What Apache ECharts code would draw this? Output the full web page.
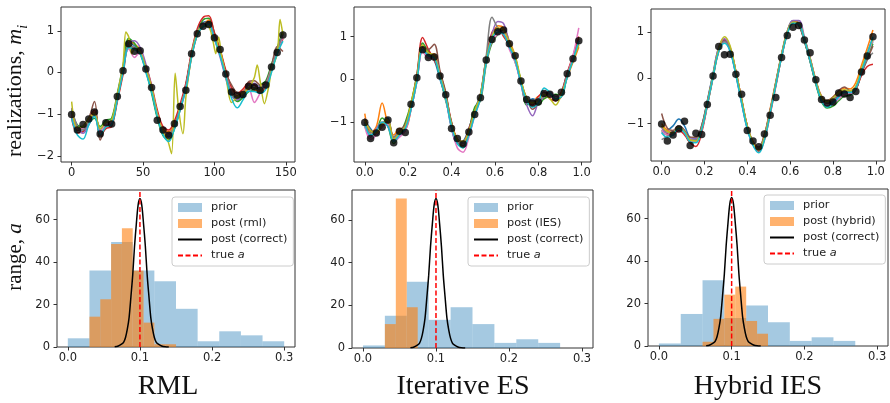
<!DOCTYPE html>
<html><head><meta charset="utf-8">
<script src="https://cdn.jsdelivr.net/npm/echarts@6/dist/echarts.min.js"></script>
<style>html,body{margin:0;padding:0;background:#fff}#c{width:890px;height:403px}</style>
</head><body><div id="c"></div>
<script>
// ---------- top row: realizations ----------
const obsX = [0,4,8,12,16,20,24,28,32,36,40,44,48,52,56,60,64,68,72,76,80,84,88,92,96,100,104,108,112,116,120,124,128,132,136,140,144,148];
const obsXUnit = [0,0.0267,0.0533,0.08,0.1067,0.1333,0.16,0.1867,0.2133,0.24,0.2667,0.2933,0.32,0.3467,0.3733,0.4,0.4267,0.4533,0.48,0.5067,0.5333,0.56,0.5867,0.6133,0.64,0.6667,0.6933,0.72,0.7467,0.7733,0.8,0.8267,0.8533,0.88,0.9067,0.9333,0.96,0.9867];
const obsY = [-1.01,-1.38,-1.25,-1.12,-0.95,-1.48,-1.21,-1.24,-0.58,0.04,0.69,0.51,0.52,0.08,-0.36,-1.15,-1.38,-1.51,-1.23,-0.82,-0.43,0.45,0.93,1.11,1.15,0.83,0.55,-0.04,-0.47,-0.55,-0.53,-0.33,-0.35,-0.43,-0.30,0.13,0.48,0.90];

const rml1 = [-0.95,-1.3,-1.42,-1.2,-1.05,-1.35,-1.2,-1.15,-0.55,0.1,0.72,0.64,0.48,0.06,-0.45,-1.05,-1.45,-1.55,-1.3,-0.85,-0.32,0.45,1.0,1.2,1.22,0.88,0.42,-0.1,-0.52,-0.66,-0.56,-0.4,-0.3,-0.36,-0.26,0.15,0.55,0.95];
const rml2 = [-1.05,-1.38,-1.3,-1.1,-0.95,-1.45,-1.28,-1.24,-0.65,0.0,0.78,0.68,0.55,0.15,-0.36,-0.95,-1.36,-1.42,-1.22,-0.8,-0.42,0.36,0.9,1.12,1.26,0.92,0.52,0.02,-0.42,-0.56,-0.46,-0.3,-0.42,-0.45,-0.35,0.05,0.45,0.85];
const rml3 = [-0.88,-1.26,-1.3,-1.2,-1.1,-1.3,-1.15,-1.1,-0.5,0.16,0.82,0.7,0.45,0.04,-0.5,-1.1,-1.52,-1.62,-1.36,-0.9,-0.3,0.42,0.96,1.26,1.3,0.95,0.5,-0.06,-0.5,-0.7,-0.6,-0.46,-0.4,-0.3,-0.2,0.2,0.6,1.0];
const rml4 = [-1.1,-1.45,-1.42,-1.1,-0.9,-1.52,-1.35,-1.3,-0.7,-0.05,0.62,0.56,0.5,0.16,-0.3,-0.9,-1.3,-1.38,-1.16,-0.76,-0.26,0.5,1.05,1.32,1.36,0.95,0.55,0.05,-0.36,-0.5,-0.4,-0.25,-0.3,-0.42,-0.36,0.06,0.46,0.8];
const rml5 = [-0.85,-1.3,-1.46,-1.26,-1.0,-1.4,-1.3,-1.2,-0.6,0.05,0.7,0.76,0.6,0.2,-0.35,-1.0,-1.46,-1.52,-1.26,-0.9,-0.4,0.4,0.95,1.16,1.15,0.8,0.36,-0.15,-0.56,-0.66,-0.5,-0.3,-0.26,-0.36,-0.3,0.1,0.55,0.9];
const rml6 = [-1.0,-1.4,-1.3,-1.1,-0.7,-1.62,-1.3,-1.25,-0.66,0.06,0.6,0.58,0.52,0.1,-0.4,-1.0,-1.4,-1.46,-1.3,-0.85,-0.35,0.4,0.9,1.1,1.2,0.85,0.5,-0.02,-0.3,-0.5,-0.55,-0.22,-0.2,-0.3,-0.25,0.15,0.62,0.5];
const rml7 = [-1.0,-1.35,-1.36,-1.15,-1.0,-1.45,-1.25,-1.2,-0.6,0.12,0.56,0.36,0.5,0.05,-0.4,-1.0,-1.4,-1.5,-1.3,-0.86,-0.36,0.4,0.95,1.1,1.15,0.8,0.45,-0.05,-0.45,-0.6,-0.5,-0.4,-0.72,-0.5,-0.3,0.1,0.5,0.85];
const rml8 = [-0.95,-1.32,-1.38,-1.18,-1.02,-1.36,-1.2,-1.16,-0.58,0.06,0.66,0.6,0.5,0.1,-0.42,-1.02,-1.44,-1.5,-1.28,-0.84,-0.36,0.44,0.98,1.18,1.18,0.84,0.46,-0.06,-0.48,-0.6,-0.52,-0.36,-0.36,-0.4,-0.32,0.1,0.52,0.92];
const rml9 = [-1.1,-1.5,-1.6,-1.26,-1.05,-1.5,-1.3,-1.26,-0.66,0.0,0.6,0.55,0.45,0.0,-0.46,-1.06,-1.5,-1.66,-1.36,-0.9,-0.4,0.36,0.9,1.1,1.15,0.8,0.4,-0.1,-0.62,-0.85,-0.66,-0.45,-0.46,-0.5,-0.4,0.0,0.45,0.75];
const rmlOliveX = [0,2,4,8,12,16,20,24,28,32,36,38,40,42,44,48,52,56,60,64,67,70,72.5,75,78,80,84,88,92,96,99,101,103,105,108,112,116,120,124,128,130,132,135,138,140,144,146,148];
const rmlOliveY = [-0.7,-1.2,-1.32,-1.3,-1.1,-1.0,-1.35,-1.2,-1.15,-0.55,0.2,0.97,0.85,0.45,0.55,0.5,0.1,-0.35,-1.0,-1.42,-1.6,-1.95,-0.02,-0.9,-1.47,-0.6,0.4,0.95,1.12,1.1,0.75,0.45,0.85,0.4,-0.08,-0.72,-0.6,-0.5,-0.38,-0.12,0.18,-0.2,-0.75,-0.35,0.05,0.45,1.27,0.9];

const ies1 = [-0.95,-1.15,-1.3,-1.05,-0.9,-1.45,-1.25,-1.05,-0.6,0.05,0.75,0.6,0.45,0.0,-0.45,-1.15,-1.5,-1.45,-1.15,-0.7,-0.35,0.5,1.05,1.15,1.05,0.75,0.45,-0.1,-0.55,-0.45,-0.5,-0.35,-0.3,-0.5,-0.3,0.15,0.5,0.9];
const ies2 = [-0.8,-1.25,-1.1,-0.55,-1.05,-1.3,-1.15,-1.15,-0.7,-0.05,0.7,0.55,0.6,0.15,-0.35,-1.05,-1.4,-1.55,-1.25,-0.8,-0.45,0.4,0.95,1.25,1.2,0.9,0.55,-0.1,-0.45,-0.55,-0.4,-0.45,-0.3,-0.4,-0.3,0.05,0.4,0.75];
const ies3 = [-1.1,-1.3,-1.2,-0.9,-1.1,-1.5,-1.3,-1.0,-0.55,0.1,0.85,0.65,0.5,0.05,-0.5,-1.0,-1.45,-1.6,-1.2,-0.65,-0.5,0.35,0.85,1.05,1.15,0.85,0.4,0.0,-0.6,-0.5,-0.6,-0.45,-0.4,-0.35,-0.4,0.1,0.45,0.95];
const ies4 = [-1.05,-1.2,-1.25,-1.1,-0.95,-1.35,-1.2,-1.1,-0.6,0.1,0.98,0.7,0.45,0.15,-0.35,-1.0,-1.4,-1.45,-1.15,-0.75,-0.35,0.5,1.1,1.2,1.0,0.8,0.5,-0.05,-0.45,-0.6,-0.4,-0.3,-0.45,-0.5,-0.3,0.15,0.55,1.0];
const ies5 = [-1.0,-1.35,-1.15,-1.0,-1.1,-1.4,-1.3,-1.2,-0.7,-0.05,0.7,0.55,0.55,0.05,-0.45,-1.1,-1.5,-1.5,-1.3,-0.8,-0.4,0.45,1.05,1.35,1.3,0.85,0.45,-0.1,-0.6,-0.85,-0.55,-0.4,-0.3,-0.4,-0.35,0.05,0.5,0.85];
const ies6 = [-0.9,-1.2,-1.3,-1.05,-1.0,-1.4,-1.2,-1.05,-0.6,0.0,0.75,0.7,0.82,0.2,-0.3,-1.05,-1.45,-1.55,-1.25,-0.8,-0.4,0.45,0.95,1.1,1.15,0.8,0.5,-0.05,-0.45,-0.7,-0.55,-0.3,-0.35,-0.5,-0.4,0.1,0.5,0.8];
const ies7 = [-1.1,-1.4,-1.3,-1.1,-1.05,-1.45,-1.35,-1.2,-0.7,-0.05,0.65,0.5,0.5,0.1,-0.45,-1.1,-1.6,-1.7,-1.35,-0.85,-0.45,0.4,0.9,1.05,1.1,0.7,0.4,-0.1,-0.5,-0.5,-0.45,-0.35,-0.4,-0.45,-0.35,0.1,0.55,1.2];
const ies8 = [-1.0,-1.25,-1.2,-1.0,-1.0,-1.35,-1.2,-1.1,-0.65,0.0,0.8,0.6,0.55,0.1,-0.4,-1.05,-1.45,-1.5,-1.2,-0.75,-0.4,0.55,1.45,1.2,1.05,0.8,0.5,-0.05,-0.5,-0.5,-0.45,-0.4,-0.35,-0.45,-0.35,0.1,0.45,0.85];
const ies9 = [-0.95,-1.2,-1.25,-1.05,-0.95,-1.4,-1.25,-1.1,-0.55,0.05,0.8,0.62,0.55,0.1,-0.4,-1.05,-1.4,-1.45,-1.2,-0.75,-0.35,0.45,1.0,1.2,1.15,0.85,0.55,0.0,-0.45,-0.55,-0.5,-0.35,-0.45,-0.6,-0.35,0.05,0.45,0.8];
const ies10 = [-1.05,-1.3,-1.2,-1.0,-1.1,-1.45,-1.3,-1.15,-0.7,-0.05,0.7,0.55,0.5,0.05,-0.45,-1.1,-1.5,-1.6,-1.3,-0.85,-0.45,0.4,0.95,1.1,1.05,0.75,0.45,-0.1,-0.5,-0.65,-0.55,-0.2,-0.3,-0.45,-0.4,0.05,0.45,0.9];

const hyb1 = [-1.2,-1.15,-1.05,-0.9,-1.05,-1.3,-1.32,-1.05,-0.5,0.1,0.66,0.82,0.6,0.06,-0.55,-1.12,-1.46,-1.6,-1.3,-0.72,-0.1,0.52,1.02,1.25,1.2,0.82,0.36,-0.12,-0.5,-0.62,-0.52,-0.4,-0.32,-0.35,-0.24,0.14,0.5,0.8];
const hyb2 = [-1.0,-1.15,-1.2,-1.1,-1.2,-1.38,-1.36,-1.12,-0.58,0.02,0.58,0.78,0.64,0.14,-0.46,-1.05,-1.4,-1.52,-1.24,-0.68,-0.08,0.52,1.02,1.24,1.2,0.86,0.44,-0.04,-0.4,-0.5,-0.42,-0.3,-0.22,-0.24,-0.1,0.28,0.65,1.05];
const hyb3 = [-1.15,-1.25,-1.22,-1.1,-1.2,-1.4,-1.4,-1.15,-0.6,0.0,0.6,0.78,0.6,0.1,-0.5,-1.08,-1.42,-1.55,-1.28,-0.75,-0.15,0.45,0.96,1.2,1.16,0.8,0.36,-0.14,-0.52,-0.66,-0.62,-0.5,-0.4,-0.38,-0.26,0.1,0.45,0.75];
const hyb4 = [-1.05,-1.22,-1.25,-1.15,-1.25,-1.42,-1.5,-1.2,-0.6,0.04,0.64,0.84,0.66,0.14,-0.46,-1.06,-1.44,-1.6,-1.36,-0.8,-0.18,0.46,0.98,1.22,1.2,0.86,0.42,-0.06,-0.44,-0.56,-0.48,-0.36,-0.3,-0.32,-0.24,0.05,0.25,0.3];
const hyb5 = [-1.1,-1.2,-1.18,-1.05,-1.15,-1.34,-1.34,-1.08,-0.52,0.08,0.68,0.86,0.66,0.14,-0.48,-1.1,-1.46,-1.58,-1.28,-0.74,-0.14,0.48,1.0,1.26,1.26,0.9,0.44,-0.06,-0.42,-0.54,-0.46,-0.34,-0.3,-0.34,-0.24,0.15,0.55,0.88];
const hyb6 = [-0.78,-1.1,-1.15,-1.05,-1.15,-1.3,-1.3,-1.05,-0.52,0.06,0.6,0.8,0.6,0.1,-0.5,-1.06,-1.4,-1.52,-1.24,-0.7,-0.1,0.5,0.98,1.2,1.15,0.8,0.38,-0.1,-0.42,-0.5,-0.42,-0.28,-0.2,-0.28,-0.22,0.1,0.4,0.7];
const hyb7 = [-1.15,-1.25,-1.25,-1.1,-1.2,-1.38,-1.4,-1.15,-0.6,0.02,0.6,0.78,0.6,0.08,-0.52,-1.1,-1.44,-1.56,-1.3,-0.74,-0.14,0.48,0.98,1.2,1.18,0.84,0.4,-0.08,-0.48,-0.62,-0.58,-0.46,-0.36,-0.34,-0.22,0.16,0.5,0.82];
const hyb8 = [-1.35,-1.28,-1.2,-1.05,-1.18,-1.36,-1.36,-1.1,-0.56,0.04,0.62,0.8,0.62,0.1,-0.5,-1.08,-1.42,-1.54,-1.26,-0.72,-0.12,0.5,1.0,1.22,1.18,0.84,0.4,-0.08,-0.44,-0.55,-0.48,-0.34,-0.28,-0.3,-0.2,0.12,0.4,0.55];
const hyb9 = [-1.05,-1.18,-1.2,-1.08,-1.18,-1.36,-1.38,-1.12,-0.55,0.06,0.64,0.9,0.7,0.14,-0.46,-1.06,-1.42,-1.58,-1.3,-0.74,-0.12,0.5,1.0,1.22,1.2,0.86,0.42,-0.06,-0.42,-0.52,-0.44,-0.32,-0.26,-0.28,-0.18,0.2,0.55,0.85];
const hyb10 = [-1.2,-1.3,-1.25,-1.1,-1.2,-1.4,-1.42,-1.14,-0.58,0.02,0.58,0.76,0.58,0.06,-0.54,-1.12,-1.48,-1.64,-1.36,-0.78,-0.16,0.46,0.96,1.2,1.18,0.84,0.38,-0.1,-0.5,-0.64,-0.56,-0.42,-0.32,-0.32,-0.22,0.14,0.52,0.9];

// ---------- bottom row: range histograms ----------
const priorEdges = [0,0.03,0.06,0.09,0.12,0.15,0.18,0.21,0.24,0.27,0.30];
const priorRml = [4.1,36,49.5,36,31,18,2.7,7.4,5.5,2.7];
const priorIes = [1.2,15.1,31,13.2,19.1,11.2,2.4,4.1,2.4,0];
const priorHyb = [1.2,15.1,31,13.2,19.1,11.2,2.4,4.1,2.4,0];
const postRmlEdges = [0.03,0.045,0.06,0.075,0.09,0.105,0.12,0.135,0.15];
const postRml = [14.3,22.5,48.5,56,36,11.5,1.3,1.3];
const postIesEdges = [0.03,0.045,0.06,0.075];
const postIes = [11.2,70,19.1];
const postHybEdges = [0.06,0.075,0.09,0.105,0.12,0.135,0.15];
const postHyb = [2.0,12.8,24.2,28,11.8,5.8];
const pdfX = [0.065,0.07,0.075,0.0775,0.08,0.0825,0.085,0.0875,0.09,0.0925,0.095,0.0975,0.1,0.1025,0.105,0.1075,0.11,0.1125,0.115,0.1175,0.12,0.1225,0.125,0.13,0.135,0.14];
const pdfY = [0.1,0.5,1.5,2.3,4.5,8.4,14,23.7,34,47.5,58,67,70,67,58,47.5,34,23.7,14,8.4,4.5,2.3,1.5,0.5,0.1,0];
const trueA = 0.1;
const pdfTop = 74;

const topXTicks = [0,50,100,150];
const unitXTicks = [0,0.2,0.4,0.6,0.8,1.0];
const topLeftYTicks = [-2,-1,0,1];
const topYTicks = [-1,0,1];
const histXTicks = [0,0.1,0.2,0.3];
const histYTicks = [0,20,40,60];

const tab10 = ['#1f77b4','#ff7f0e','#2ca02c','#d62728','#9467bd','#8c564b','#e377c2','#7f7f7f','#bcbd22','#17becf'];
const PRIOR_C = 'rgba(31,119,180,0.4)';
const POST_C = 'rgba(255,127,14,0.6)';

const zip = (xs, ys) => xs.map((x, i) => [x, ys[i]]);
const minus = v => String(v).replace('-', '\u2212');
const tickFont = {fontFamily: 'DejaVu Sans', fontSize: 11.5, color: '#222'};

const grids = [
  {left: 61, top: 7, width: 234, height: 155},
  {left: 354, top: 7, width: 237, height: 155},
  {left: 651, top: 9, width: 234, height: 152},
  {left: 57, top: 190, width: 238, height: 157},
  {left: 352, top: 190, width: 241, height: 158},
  {left: 648, top: 189, width: 240, height: 157}
].map(g => Object.assign({show: true, borderColor: '#333', borderWidth: 1, backgroundColor: 'transparent'}, g));

function xAx(gi, min, max, ticks, fmt) {
  return {type: 'value', gridIndex: gi, min, max, position: 'bottom',
    axisLine: {show: false, onZero: false}, splitLine: {show: false},
    axisTick: {show: true, inside: false, length: 3.5, lineStyle: {color: '#333'}, customValues: ticks},
    axisLabel: Object.assign({margin: 5, customValues: ticks, formatter: fmt}, tickFont)};
}
function yAx(gi, min, max, ticks, fmt) {
  return {type: 'value', gridIndex: gi, min, max, position: 'left',
    axisLine: {show: false, onZero: false}, splitLine: {show: false},
    axisTick: {show: true, inside: false, length: 3.5, lineStyle: {color: '#333'}, customValues: ticks},
    axisLabel: Object.assign({margin: 7, customValues: ticks, formatter: fmt}, tickFont)};
}
const f1 = v => minus(Number(v).toFixed(1));
const f0 = v => minus(Math.round(v));

const xAxis = [
  xAx(0, -7.45, 156.45, topXTicks, f0),
  xAx(1, -0.0497, 1.043, unitXTicks, f1),
  xAx(2, -0.0497, 1.043, unitXTicks, f1),
  xAx(3, -0.015, 0.315, histXTicks, f1),
  xAx(4, -0.015, 0.315, histXTicks, f1),
  xAx(5, -0.015, 0.315, histXTicks, f1)
];
const yAxis = [
  yAx(0, -2.15, 1.57, topLeftYTicks, f0),
  yAx(1, -1.93, 1.69, topYTicks, f0),
  yAx(2, -1.82, 1.51, topYTicks, f0),
  yAx(3, 0, pdfTop, histYTicks, f0),
  yAx(4, 0, pdfTop, histYTicks, f0),
  yAx(5, 0, pdfTop, histYTicks, f0)
];

const series = [];
function addLine(ai, xs, ys, color, smooth) {
  series.push({type: 'line', xAxisIndex: ai, yAxisIndex: ai, data: zip(xs, ys),
    showSymbol: false, symbol: 'none', smooth: smooth, silent: true,
    lineStyle: {width: 1.5, color}, z: 2});
}
[rml1, rml2, rml3, rml4, rml5, rml6, rml7, rml8].forEach((ys, k) => addLine(0, obsX, ys, tab10[k], 0.35));
addLine(0, rmlOliveX, rmlOliveY, tab10[8], 0.3);
addLine(0, obsX, rml9, tab10[9], 0.35);
[ies1, ies2, ies3, ies4, ies5, ies6, ies7, ies8, ies9, ies10].forEach((ys, k) => addLine(1, obsXUnit, ys, tab10[k], 0.35));
[hyb1, hyb2, hyb3, hyb4, hyb5, hyb6, hyb7, hyb8, hyb9, hyb10].forEach((ys, k) => addLine(2, obsXUnit, ys, tab10[k], 0.4));
[[0, obsX], [1, obsXUnit], [2, obsXUnit]].forEach(([ai, xs]) => {
  series.push({type: 'scatter', xAxisIndex: ai, yAxisIndex: ai, data: zip(xs, obsY),
    symbolSize: 7.5, itemStyle: {color: '#000'}, silent: true, z: 5});
});

function hist(ai, name, edges, heights, color) {
  series.push({type: 'custom', name, xAxisIndex: ai, yAxisIndex: ai,
    data: heights.map((h, i) => [edges[i], edges[i + 1], h]),
    encode: {x: [0, 1], y: 2}, itemStyle: {color}, silent: true, z: 2,
    renderItem: (params, api) => {
      const a = api.coord([api.value(0), api.value(2)]);
      const b = api.coord([api.value(1), 0]);
      return {type: 'rect', shape: {x: a[0], y: a[1], width: b[0] - a[0], height: b[1] - a[1]}, style: {fill: color}};
    }});
}
function pdfAndTrue(ai) {
  series.push({type: 'line', name: 'post (correct)', xAxisIndex: ai, yAxisIndex: ai, data: zip(pdfX, pdfY),
    showSymbol: false, symbol: 'none', smooth: 0.3, silent: true, lineStyle: {width: 1.5, color: '#000'}, itemStyle: {color: '#000'}, z: 4});
  series.push({type: 'line', name: 'true a', xAxisIndex: ai, yAxisIndex: ai, data: [[trueA, 0], [trueA, pdfTop]],
    showSymbol: false, symbol: 'none', silent: true, lineStyle: {width: 1.5, color: '#ff0000', type: [5, 2.5]}, itemStyle: {color: '#ff0000'}, z: 5});
}
hist(3, 'prior', priorEdges, priorRml, PRIOR_C);
hist(3, 'post (rml)', postRmlEdges, postRml, POST_C);
pdfAndTrue(3);
hist(4, 'prior', priorEdges, priorIes, PRIOR_C);
hist(4, 'post (IES)', postIesEdges, postIes, POST_C);
pdfAndTrue(4);
hist(5, 'prior', priorEdges, priorHyb, PRIOR_C);
hist(5, 'post (hybrid)', postHybEdges, postHyb, POST_C);
pdfAndTrue(5);

function legend(left, top, postName) {
  return {orient: 'vertical', left, top, itemWidth: 24, itemHeight: 9, itemGap: 5,
    padding: [5, 6, 5, 5], backgroundColor: 'rgba(255,255,255,0.8)', borderColor: '#cccccc', borderWidth: 1, borderRadius: 3,
    selectedMode: false,
    textStyle: {fontFamily: 'DejaVu Sans', fontSize: 11.3, color: '#222', padding: [0, 0, 0, 4],
      rich: {it: {fontFamily: 'DejaVu Sans', fontSize: 11.3, fontStyle: 'italic', color: '#222'}}},
    formatter: n => n === 'true a' ? 'true {it|a}' : n,
    data: [{name: 'prior', icon: 'rect'}, {name: postName, icon: 'rect'},
      {name: 'post (correct)', itemStyle: {opacity: 0}}, {name: 'true a', itemStyle: {opacity: 0}}]};
}

const serif = 'Liberation Serif';
const graphic = [
  {type: 'text', x: 15, y: 91, rotation: Math.PI / 2, style: {text: 'realizations, {m|m}{s|i}', fontFamily: serif, fontSize: 22, fill: '#111', align: 'center', verticalAlign: 'middle',
    rich: {m: {fontFamily: serif, fontSize: 22, fontStyle: 'italic', fill: '#111'}, s: {fontFamily: serif, fontSize: 14, fontStyle: 'italic', fill: '#111', verticalAlign: 'bottom', lineHeight: 30}}}},
  {type: 'text', x: 15, y: 257, rotation: Math.PI / 2, style: {text: 'range, {a|a}', fontFamily: serif, fontSize: 21, fill: '#111', align: 'center', verticalAlign: 'middle',
    rich: {a: {fontFamily: serif, fontSize: 21, fontStyle: 'italic', fill: '#111'}}}},
  {type: 'text', x: 168, y: 387, style: {text: 'RML', fontFamily: serif, fontSize: 28, fill: '#111', align: 'center', verticalAlign: 'middle'}},
  {type: 'text', x: 463, y: 387, style: {text: 'Iterative ES', fontFamily: serif, fontSize: 28, fill: '#111', align: 'center', verticalAlign: 'middle'}},
  {type: 'text', x: 758, y: 387, style: {text: 'Hybrid IES', fontFamily: serif, fontSize: 28, fill: '#111', align: 'center', verticalAlign: 'middle'}}
];

const chart = echarts.init(document.getElementById('c'), null, {renderer: 'canvas'});
chart.setOption({
  animation: false,
  grid: grids, xAxis, yAxis, series,
  legend: [legend(172, 197, 'post (rml)'), legend(468, 197, 'post (IES)'), legend(764, 195, 'post (hybrid)')],
  graphic
});
</script></body></html>
